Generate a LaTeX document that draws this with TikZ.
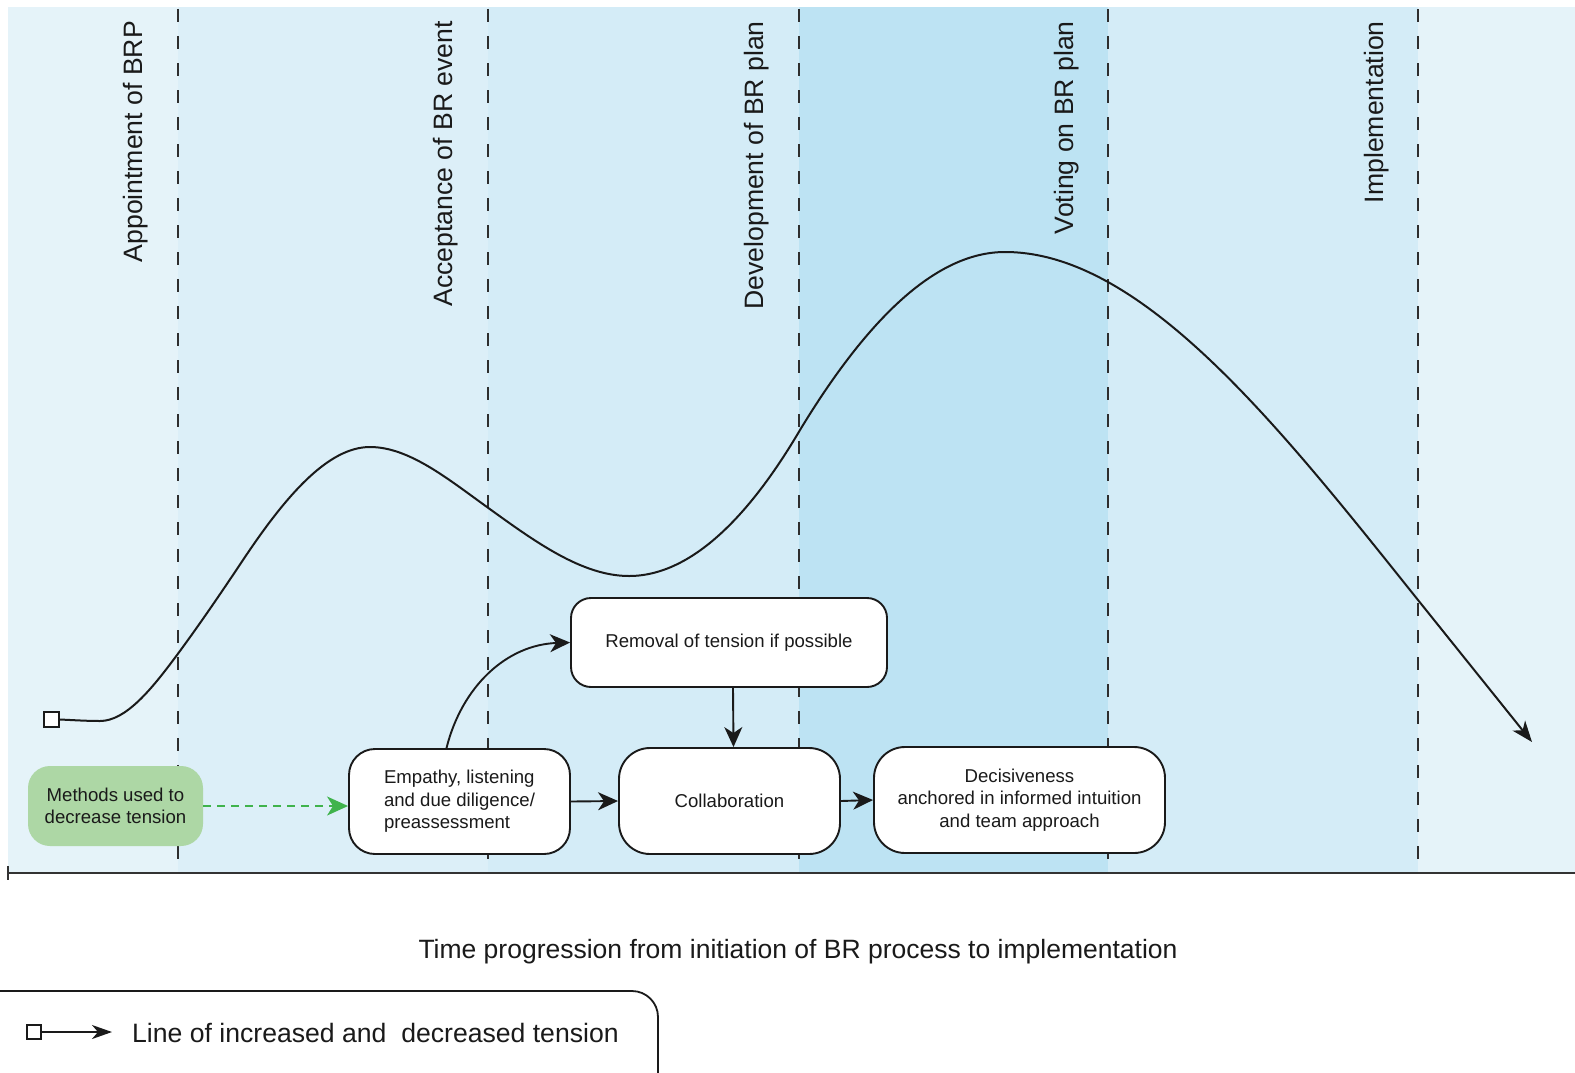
\documentclass[tikz,border=0pt]{standalone}
\usepackage{fontspec}
\setmainfont{Liberation Sans}
\usetikzlibrary{arrows.meta}

\definecolor{bandA}{HTML}{E5F3F9}
\definecolor{bandB}{HTML}{DCEFF8}
\definecolor{bandC}{HTML}{D4ECF7}
\definecolor{bandD}{HTML}{BDE3F3}
\definecolor{ink}{HTML}{1A1A1A}
\definecolor{divider}{HTML}{2E2E2E}
\definecolor{axisgray}{HTML}{333333}
\definecolor{methodfill}{HTML}{ADD7A5}
\definecolor{methodarrow}{HTML}{3FB34C}

\begin{document}
\begin{tikzpicture}[x=1pt, y=-1pt,
  stage/.style={rotate=90, anchor=base east, inner sep=0pt, text=ink,
    font=\fontsize{26.6}{32}\selectfont},
  boxtext/.style={text=ink, font=\fontsize{18.6}{22.5}\selectfont},
  stepbox/.style={draw=ink, line width=1.9pt, fill=white, inner sep=0pt,
    rectangle, boxtext},
  arr/.style={draw=ink, line width=1.9pt,
    -{Stealth[length=20pt, width=18pt, inset=6pt]}},
  phaseline/.style={draw=divider, line width=1.8pt, dash pattern=on 13pt off 14pt},
]
\useasboundingbox (0,0) rectangle (1575,1072);
\fill[white] (0,0) rectangle (1575,1072);

% phase bands
\fill[bandA] (8,7)    rectangle (178,873);
\fill[bandB] (178,7)  rectangle (488,873);
\fill[bandC] (488,7)  rectangle (799,873);
\fill[bandD] (799,7)  rectangle (1108,873);
\fill[bandC] (1108,7) rectangle (1418,873);
\fill[bandA] (1418,7) rectangle (1575,873);

% phase boundaries
\foreach \px in {178,488,799,1108,1418}
  \draw[phaseline] (\px,9) -- (\px,873);

% phase names
\node[stage] (s1) at (142,21)  {Appointment of BRP};
\node[stage] (s2) at (452,21)  {Acceptance of BR event};
\node[stage] (s3) at (763,21)  {Development of BR plan};
\node[stage] (s4) at (1073,21) {Voting on BR plan};
\node[stage] (s5) at (1383,21) {Implementation};

% time axis
\draw[axisgray, line width=1.8pt] (8,873) -- (1575,873);
\draw[axisgray, line width=1.8pt] (8,866) -- (8,880);
\node[anchor=base, inner sep=0pt, text=ink, font=\fontsize{26.5}{32}\selectfont]
  (axislabel) at (798,958) {Time progression from initiation of BR process to implementation};

% tension line
\node[draw=ink, fill=white, line width=2pt, minimum size=15pt, inner sep=0pt]
  (tstart) at (51,719.5) {};
\coordinate (tend) at (1532,742);
\draw[ink, line width=2pt, -{Stealth[length=21pt, width=16pt, inset=6pt]}]
  (tstart.east) .. controls (72,720) and (86,721) .. (100,721)
  .. controls (125.7,721) and (151.3,689.7) .. (177,655)
  .. controls (199,625.3) and (221,593) .. (243,560)
  .. controls (285.3,496.5) and (327.7,447) .. (370,447)
  .. controls (409,447) and (448,479) .. (487,507)
  .. controls (534.3,541.1) and (581.7,576) .. (629,576)
  .. controls (700,576) and (760,498) .. (800,430)
  .. controls (868.3,317.3) and (936.7,252) .. (1005,252)
  .. controls (1142.7,252) and (1280.3,427.9) .. (1418,600)
  -- (tend);

% methods to decrease tension
\node[rectangle, fill=methodfill, rounded corners=22pt, minimum width=175pt,
  minimum height=80pt, inner sep=0pt, align=center, boxtext]
  (methods) at (115.5,806) {Methods used to\\decrease tension};
\node[stepbox, rounded corners=26pt, minimum width=221pt, minimum height=105pt,
  align=left] (empathy) at (459.5,801.5)
  {Empathy, listening\\and due diligence/\\preassessment};
\node[stepbox, rounded corners=20pt, minimum width=316pt, minimum height=89pt]
  (removal) at (729,642.5) {Removal of tension if possible};
\node[stepbox, rounded corners=31pt, minimum width=221pt, minimum height=106pt]
  (collab) at (729.5,801) {Collaboration};
\node[stepbox, rounded corners=31pt, minimum width=291pt, minimum height=106pt,
  align=center] (decide) at (1019.5,800)
  {Decisiveness\\anchored in informed intuition\\and team approach};

\draw[methodarrow, line width=1.6pt, dash pattern=on 8pt off 6pt,
  -{Stealth[length=21pt, width=19pt, inset=6pt]}]
  (methods.east) -- (methods.east -| empathy.west);
\draw[arr] ([xshift=-13pt]empathy.north) to[out=76, in=182] (removal.west);
\draw[arr] ([xshift=4pt]removal.south) -- ([xshift=4pt]collab.north);
\draw[arr] (empathy.east) -- (collab.west);
\draw[arr] (collab.east) -- (decide.west);

% legend
\draw[ink, line width=1.8pt, fill=white, rounded corners=26pt]
  (-30,1110) -- (-30,991) -- (658,991) -- (658,1110);
\node[draw=ink, fill=white, line width=1.8pt, minimum size=14pt, inner sep=0pt]
  (legsq) at (34,1032) {};
\coordinate (legend) at (112,1032);
\draw[ink, line width=1.9pt, -{Stealth[length=20pt, width=14pt, inset=6pt]}]
  (legsq.east) -- (legend);
\node[anchor=base west, inner sep=0pt, text=ink, font=\fontsize{26.6}{32}\selectfont]
  (legtext) at (132,1042) {Line of increased and\ \ decreased tension};
\end{tikzpicture}
\end{document}
